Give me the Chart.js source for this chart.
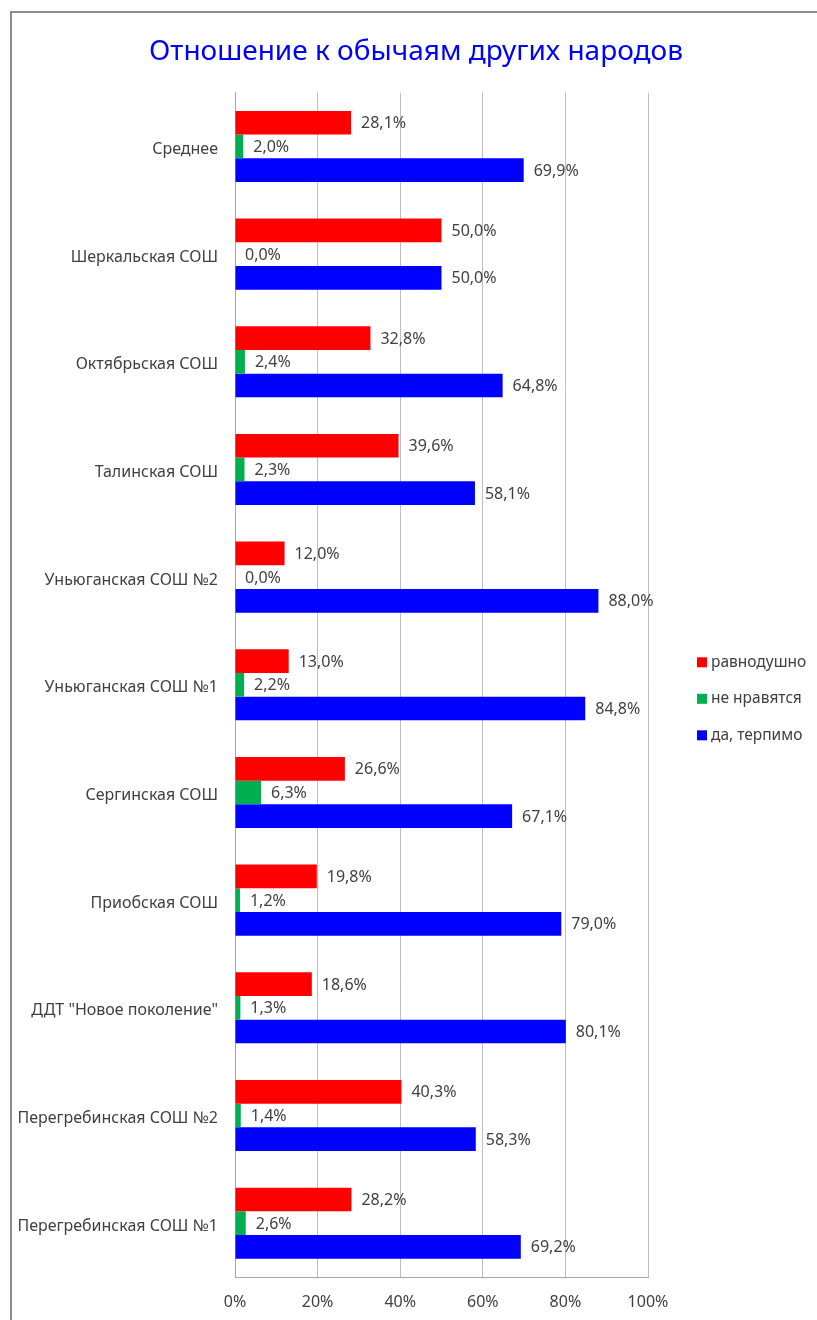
<!DOCTYPE html>
<html lang="ru">
<head>
<meta charset="utf-8">
<title>Отношение к обычаям других народов</title>
<script src="https://cdn.jsdelivr.net/npm/chart.js@4/dist/chart.umd.min.js"></script>
<style>
    html, body { margin: 0; padding: 0; background: #fff; }
    #wrap { position: relative; width: 817px; height: 1320px; overflow: hidden; }
    #frame { position: absolute; left: 10px; top: 11px; width: 900px; height: 1400px; border: 2px solid #8c8c8c; }
    #chart { position: absolute; left: 0; top: 0; }
</style>
</head>
<body>
<div id="wrap">
    <div id="frame"></div>
    <canvas id="chart" width="817" height="1320"></canvas>
</div>
<script>
// Chart data
const schools = [
    'Среднее',
    'Шеркальская СОШ',
    'Октябрьская СОШ',
    'Талинская СОШ',
    'Уньюганская СОШ №2',
    'Уньюганская СОШ №1',
    'Сергинская СОШ',
    'Приобская СОШ',
    'ДДТ "Новое поколение"',
    'Перегребинская СОШ №2',
    'Перегребинская СОШ №1'
];
const indifferent = [28.1, 50.0, 32.8, 39.6, 12.0, 13.0, 26.6, 19.8, 18.6, 40.3, 28.2];
const dislike = [2.0, 0.0, 2.4, 2.3, 0.0, 2.2, 6.3, 1.2, 1.3, 1.4, 2.6];
const tolerant = [69.9, 50.0, 64.8, 58.1, 88.0, 84.8, 67.1, 79.0, 80.1, 58.3, 69.2];
const seriesNames = ['равнодушно', 'не нравятся', 'да, терпимо'];
const percentTicks = [0, 20, 40, 60, 80, 100];

const FONT = '"Noto Sans", sans-serif';
const TEXT_COLOR = '#404040';

function formatPercent(v) {
    return v.toFixed(1).replace('.', ',') + '%';
}

// Value labels at the end of every bar
const valueLabels = {
    id: 'valueLabels',
    afterDatasetsDraw(chart) {
        const ctx = chart.ctx;
        ctx.save();
        ctx.font = '16px ' + FONT;
        ctx.fillStyle = TEXT_COLOR;
        ctx.textAlign = 'left';
        ctx.textBaseline = 'middle';
        chart.data.datasets.forEach((ds, i) => {
            chart.getDatasetMeta(i).data.forEach((bar, j) => {
                ctx.fillText(formatPercent(ds.data[j]), bar.x + 10, bar.y + 1);
            });
        });
        ctx.restore();
    }
};

// Legend to the right of the plot
const sideLegend = {
    id: 'sideLegend',
    afterDraw(chart) {
        const ctx = chart.ctx;
        const area = chart.chartArea;
        const x = area.right + 49;
        const midY = (area.top + area.bottom) / 2 + 14;
        ctx.save();
        ctx.font = '15.5px ' + FONT;
        ctx.textAlign = 'left';
        ctx.textBaseline = 'middle';
        chart.data.datasets.forEach((ds, i) => {
            const y = midY + (i - 1) * 36.5;
            ctx.fillStyle = ds.backgroundColor;
            ctx.fillRect(x, y - 5, 10, 10);
            ctx.fillStyle = TEXT_COLOR;
            ctx.fillText(ds.label, x + 14, y);
        });
        ctx.restore();
    }
};

const ctx = document.getElementById('chart').getContext('2d');
const chart = new Chart(ctx, {
    type: 'bar',
    data: {
        labels: schools,
        datasets: [{
            label: seriesNames[0],
            data: indifferent,
            backgroundColor: '#FF0000'
        }, {
            label: seriesNames[1],
            data: dislike,
            backgroundColor: '#00B050'
        }, {
            label: seriesNames[2],
            data: tolerant,
            backgroundColor: '#0000FF'
        }]
    },
    options: {
        indexAxis: 'y',
        responsive: false,
        animation: false,
        barPercentage: 1,
        categoryPercentage: 0.66,
        layout: {
            padding: { left: 15, right: 0, top: 0, bottom: 0 }
        },
        plugins: {
            legend: { display: false },
            tooltip: { enabled: false },
            title: {
                display: true,
                text: 'Отношение к обычаям других народов',
                color: '#0000FF',
                font: { family: FONT, size: 28, weight: 'normal' },
                padding: { top: 35, bottom: 24 }
            }
        },
        scales: {
            x: {
                min: 0,
                max: 100,
                afterBuildTicks: function (scale) {
                    scale.ticks = percentTicks.map(v => ({ value: v }));
                },
                afterFit: function (scale) {
                    scale.height = 43;
                },
                grid: {
                    display: true,
                    color: '#BFBFBF',
                    drawTicks: false
                },
                border: { display: true, color: '#A6A6A6' },
                ticks: {
                    padding: 16,
                    color: TEXT_COLOR,
                    font: { family: FONT, size: 16 },
                    callback: v => v + '%'
                }
            },
            y: {
                afterFit: function (scale) {
                    scale.width = 220;
                },
                grid: { display: false, drawTicks: false },
                border: { display: true, color: '#A6A6A6' },
                ticks: {
                    padding: 17,
                    labelOffset: 3,
                    color: TEXT_COLOR,
                    font: { family: FONT, size: 16 }
                }
            },
            // empty right-hand box that leaves room for the legend
            legendSpace: {
                type: 'linear',
                position: 'right',
                display: true,
                afterFit: function (scale) {
                    scale.width = 169;
                },
                grid: { display: false, drawTicks: false },
                border: { display: false },
                ticks: { display: false }
            }
        }
    },
    plugins: [valueLabels, sideLegend]
});
</script>
</body>
</html>
